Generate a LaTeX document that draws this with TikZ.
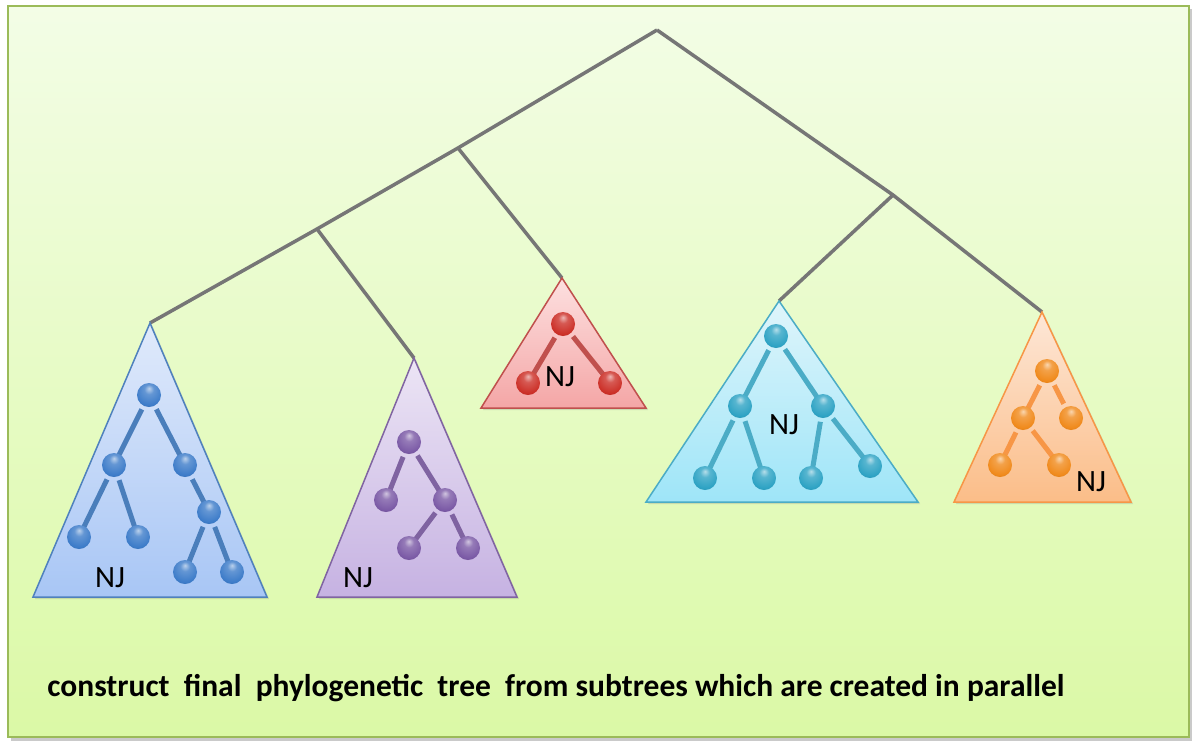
\documentclass[tikz,border=0pt]{standalone}
\usepackage{fontspec}
\setmainfont{Carlito}
\usetikzlibrary{shadows}
\definecolor{framec}{HTML}{9BBB59}
\definecolor{bgtop}{HTML}{F3FDE6}
\definecolor{bgbot}{HTML}{DBF9A6}
\definecolor{treec}{HTML}{767676}
\definecolor{blueB}{HTML}{3D7CC9}\definecolor{blueE}{HTML}{4A7EBB}\definecolor{blueT}{HTML}{E0EAFB}\definecolor{blueM}{HTML}{A8C6F5}\definecolor{blueD}{HTML}{4F81BD}
\definecolor{purB}{HTML}{7B5AA6}\definecolor{purE}{HTML}{7F63A1}\definecolor{purT}{HTML}{ECE5F5}\definecolor{purM}{HTML}{C6B2E2}\definecolor{purD}{HTML}{8064A2}
\definecolor{redB}{HTML}{CC3028}\definecolor{redE}{HTML}{C0504D}\definecolor{redT}{HTML}{FDE0E0}\definecolor{redM}{HTML}{F4A6A6}\definecolor{redD}{HTML}{C0504D}
\definecolor{cyaB}{HTML}{2EA3C4}\definecolor{cyaE}{HTML}{4BACC6}\definecolor{cyaT}{HTML}{DFF5FB}\definecolor{cyaM}{HTML}{9EE5F8}\definecolor{cyaD}{HTML}{4BACC6}
\definecolor{oraB}{HTML}{F08A1C}\definecolor{oraE}{HTML}{F79646}\definecolor{oraT}{HTML}{FDE7D7}\definecolor{oraM}{HTML}{FBBD88}\definecolor{oraD}{HTML}{F79646}
\makeatletter
\pgfdeclareradialshading[tikz@ball]{gloss}{\pgfqpoint{0bp}{14bp}}{%
  color(0bp)=(tikz@ball!35!white); color(10bp)=(tikz@ball!80!white);
  color(28bp)=(tikz@ball); color(42bp)=(tikz@ball!80!black);
  color(60bp)=(tikz@ball!55!black)}
\makeatother
\tikzset{
  treeline/.style={draw=treec, line width=3.5pt, line join=miter},
  tri/.style n args={3}{draw=#3, line width=1.5pt, top color=#1, bottom color=#2, line join=miter,
     drop shadow={opacity=0.25, shadow xshift=2pt, shadow yshift=-2pt}},
  ballnode/.style={circle, minimum size=24pt, inner sep=0pt, ball color=#1, shading=gloss},
  subedge/.style={draw=#1, line width=5pt, shorten <=16pt},
  njlabel/.style={font=\fontsize{31}{34}\selectfont, inner sep=0pt}
}
\begin{document}
\begin{tikzpicture}[x=1pt,y=-1pt]
\useasboundingbox (0,0) rectangle (1199,750);
% frame
\fill[black!35, opacity=0.6] (11,9) rectangle (1192,741);
\shade[top color=bgtop, bottom color=bgbot] (8,6) rectangle (1189,737);
\draw[framec, line width=2.5pt] (8,6) rectangle (1189,737);

% main tree coordinates
\coordinate (root) at (657,30);
\coordinate (n1) at (458,148);
\coordinate (n2) at (317,229);
\coordinate (n3) at (893,195);
\coordinate (aB) at (150,323);
\coordinate (aP) at (414,358);
\coordinate (aR) at (562,278);
\coordinate (aC) at (779,301);
\coordinate (aO) at (1042,312);

\draw[treeline] (root) -- (n1) -- (n2) -- (aB);
\draw[treeline] (n1) -- (aR);
\draw[treeline] (n2) -- (aP);
\draw[treeline] (root) -- (n3) -- (aO);
\draw[treeline] (n3) -- (aC);

% triangles
\path[tri={blueT}{blueM}{blueD}] (aB) -- (267,597) -- (33,597) -- cycle;
\path[tri={purT}{purM}{purD}] (aP) -- (517,597) -- (317,597) -- cycle;
\path[tri={redT}{redM}{redD}] (aR) -- (646,408) -- (481,408) -- cycle;
\path[tri={cyaT}{cyaM}{cyaD}] (aC) -- (918,502) -- (646,502) -- cycle;
\path[tri={oraT}{oraM}{oraD}] (aO) -- (1131,502) -- (954,502) -- cycle;

% ---- blue subtree
\coordinate (b1) at (149,395);
\coordinate (b2) at (114,465);
\coordinate (b3) at (185,465);
\coordinate (b4) at (209,512);
\coordinate (b5) at (79,537);
\coordinate (b6) at (138,537);
\coordinate (b7) at (185,572);
\coordinate (b8) at (232,572);
\foreach \p/\c in {b1/b2,b1/b3,b2/b5,b2/b6,b3/b4,b4/b7,b4/b8}
  \draw[subedge=blueE] (\p) -- (\c);
\foreach \b in {b1,b2,b3,b4,b5,b6,b7,b8}
  \node[ballnode=blueB] (B\b) at (\b) {};
\node[njlabel] (njB) at (110,578) {NJ};

% ---- purple subtree
\coordinate (p1) at (409,442);
\coordinate (p2) at (386,500);
\coordinate (p3) at (445,500);
\coordinate (p4) at (409,548);
\coordinate (p5) at (468,548);
\foreach \p/\c in {p1/p2,p1/p3,p3/p4,p3/p5}
  \draw[subedge=purE] (\p) -- (\c);
\foreach \b in {p1,p2,p3,p4,p5}
  \node[ballnode=purB] (B\b) at (\b) {};
\node[njlabel] (njP) at (358,578) {NJ};

% ---- red subtree
\coordinate (r1) at (563,324);
\coordinate (r2) at (528,383);
\coordinate (r3) at (610,383);
\foreach \p/\c in {r1/r2,r1/r3}
  \draw[subedge=redE] (\p) -- (\c);
\foreach \b in {r1,r2,r3}
  \node[ballnode=redB] (B\b) at (\b) {};
\node[njlabel] (njR) at (560,377) {NJ};

% ---- cyan subtree
\coordinate (c1) at (776,336);
\coordinate (c2) at (740,406);
\coordinate (c3) at (823,406);
\coordinate (c4) at (705,478);
\coordinate (c5) at (764,478);
\coordinate (c6) at (811,478);
\coordinate (c7) at (870,466);
\foreach \p/\c in {c1/c2,c1/c3,c2/c4,c2/c5,c3/c6,c3/c7}
  \draw[subedge=cyaE] (\p) -- (\c);
\foreach \b in {c1,c2,c3,c4,c5,c6,c7}
  \node[ballnode=cyaB] (B\b) at (\b) {};
\node[njlabel] (njC) at (784,425) {NJ};

% ---- orange subtree
\coordinate (o1) at (1047,371);
\coordinate (o2) at (1023,418);
\coordinate (o3) at (1071,418);
\coordinate (o4) at (1000,465);
\coordinate (o5) at (1059,465);
\draw[subedge=oraE] (o1) -- (o2);
\draw[subedge=oraE, shorten >=16pt] (o1) -- (o3);
\draw[subedge=oraE] (o2) -- (o4);
\draw[subedge=oraE] (o2) -- (o5);
\foreach \b in {o1,o2,o3,o4,o5}
  \node[ballnode=oraB] (B\b) at (\b) {};
\node[njlabel] (njO) at (1091,482) {NJ};

% caption
\node[font=\bfseries\fontsize{31.5}{36}\selectfont, inner sep=0pt] (cap) at (556,688)
  {construct\ \ final\ \ phylogenetic\ \ tree\ \ from subtrees which are created in parallel};
\end{tikzpicture}
\end{document}
